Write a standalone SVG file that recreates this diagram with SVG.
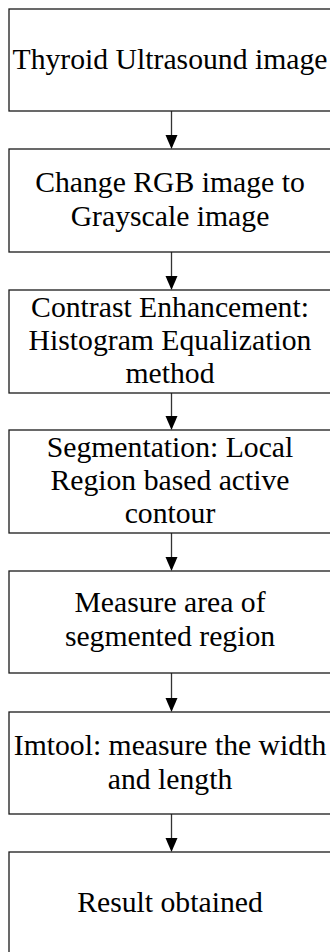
<svg xmlns="http://www.w3.org/2000/svg" width="330" height="952" viewBox="0 0 330 952">
<style>
.box{fill:#fff;stroke:#1a1a1a;stroke-width:1.3}
.t{font-family:"Liberation Serif","Times New Roman",serif;font-size:29.7px;fill:#000;text-anchor:middle}
.c{stroke:#333;stroke-width:1.3;fill:none}
.h{fill:#000}
</style>
<rect width="330" height="952" fill="#fff"/>
<g id="connectors">
<line class="c" x1="171.5" y1="111" x2="171.5" y2="137"/><polygon class="h" points="165.5,135 177.5,135 171.5,149"/>
<line class="c" x1="171.5" y1="252" x2="171.5" y2="278"/><polygon class="h" points="165.5,276 177.5,276 171.5,290"/>
<line class="c" x1="171.5" y1="393" x2="171.5" y2="418"/><polygon class="h" points="165.5,416 177.5,416 171.5,430"/>
<line class="c" x1="171.5" y1="533" x2="171.5" y2="559"/><polygon class="h" points="165.5,557 177.5,557 171.5,571"/>
<line class="c" x1="171.5" y1="673" x2="171.5" y2="700"/><polygon class="h" points="165.5,698 177.5,698 171.5,712"/>
<line class="c" x1="171.5" y1="814" x2="171.5" y2="840"/><polygon class="h" points="165.5,838 177.5,838 171.5,852"/>
</g>
<g id="n1"><rect class="box" x="9" y="9" width="325" height="102"/><text class="t" x="170" y="69">Thyroid Ultrasound image</text></g>
<g id="n2"><rect class="box" x="9" y="149" width="325" height="103"/><text class="t" x="170" y="192">Change RGB image to</text><text class="t" x="170" y="226">Grayscale image</text></g>
<g id="n3"><rect class="box" x="9" y="290" width="325" height="103"/><text class="t" x="170" y="317">Contrast Enhancement:</text><text class="t" x="170" y="350">Histogram Equalization</text><text class="t" x="170" y="383">method</text></g>
<g id="n4"><rect class="box" x="9" y="430" width="325" height="103"/><text class="t" x="170" y="457">Segmentation: Local</text><text class="t" x="170" y="490">Region based active</text><text class="t" x="170" y="523">contour</text></g>
<g id="n5"><rect class="box" x="9" y="571" width="325" height="102"/><text class="t" x="170" y="612">Measure area of</text><text class="t" x="170" y="646">segmented region</text></g>
<g id="n6"><rect class="box" x="9" y="712" width="325" height="102"/><text class="t" x="170" y="755">Imtool: measure the width</text><text class="t" x="170" y="789">and length</text></g>
<g id="n7"><rect class="box" x="9" y="852" width="325" height="103"/><text class="t" x="170" y="912">Result obtained</text></g>
</svg>
